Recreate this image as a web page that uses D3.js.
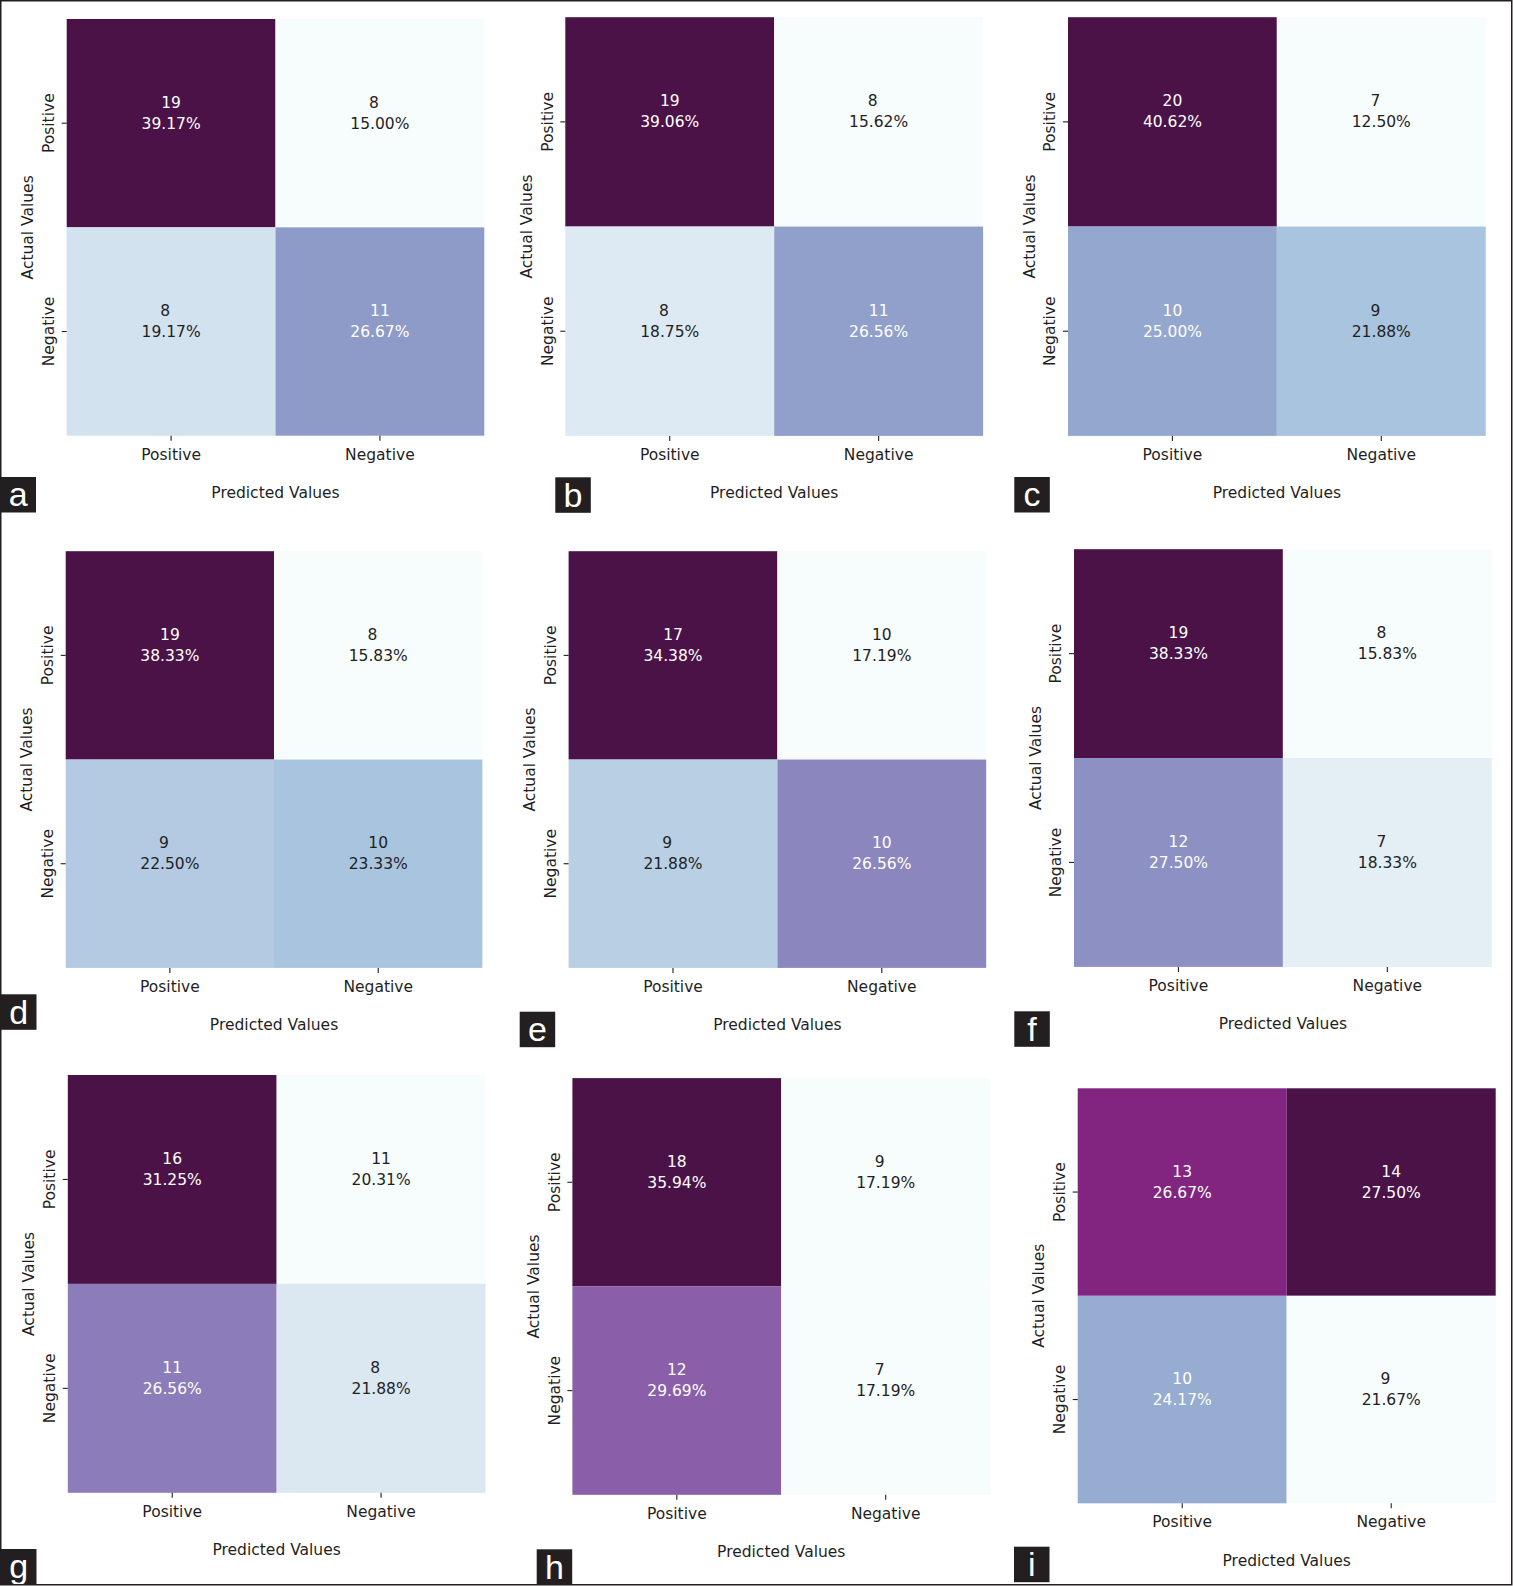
<!DOCTYPE html>
<html>
<head>
<meta charset="utf-8">
<script src="https://cdn.jsdelivr.net/npm/d3@7"></script>
<style>
  html, body { margin: 0; padding: 0; background: #fff; }
  svg { display: block; }
  text { font-family: "DejaVu Sans", sans-serif; }
</style>
</head>
<body>
<svg id="chart" width="1513" height="1586"></svg>
<script>
// ---------- data ----------
const panelLetters = ["a", "b", "c", "d", "e", "f", "g", "h", "i"];
const categories = ["Positive", "Negative"];           // actual (rows) and predicted (cols)
const xAxisTitle = "Predicted Values";
const yAxisTitle = "Actual Values";
// counts per panel: [TP, FN, FP, TN] in row-major order (actual x predicted)
const counts = [
  [19, 8, 8, 11],
  [19, 8, 8, 11],
  [20, 7, 10, 9],
  [19, 8, 9, 10],
  [17, 10, 9, 10],
  [19, 8, 12, 7],
  [16, 11, 11, 8],
  [18, 9, 12, 7],
  [13, 14, 10, 9]
];
const percents = [
  [39.17, 15.00, 19.17, 26.67],
  [39.06, 15.62, 18.75, 26.56],
  [40.62, 12.50, 25.00, 21.88],
  [38.33, 15.83, 22.50, 23.33],
  [34.38, 17.19, 21.88, 26.56],
  [38.33, 15.83, 27.50, 18.33],
  [31.25, 20.31, 26.56, 21.88],
  [35.94, 17.19, 29.69, 17.19],
  [26.67, 27.50, 24.17, 21.67]
];

// ---------- layout (pixel geometry, separate from data) ----------
const layout = [
  { x0: 66.7,  y0: 19,     x1: 484.3,  y1: 435.7,  bx: 0.5,    by: 477   },
  { x0: 565.3, y0: 17.2,   x1: 983.1,  y1: 435.9,  bx: 555.3,  by: 477.3 },
  { x0: 1068,  y0: 17.2,   x1: 1485.7, y1: 435.9,  bx: 1014.3, by: 477   },
  { x0: 65.7,  y0: 551.2,  x1: 482.4,  y1: 967.9,  bx: 1,      by: 994.3 },
  { x0: 568.6, y0: 551.2,  x1: 986.2,  y1: 967.9,  bx: 519.7,  by: 1011.7 },
  { x0: 1074,  y0: 549.2,  x1: 1491.8, y1: 966.9,  bx: 1014.3, by: 1011.3 },
  { x0: 67.8,  y0: 1075,   x1: 485.5,  y1: 1492.8, bx: 1,      by: 1549  },
  { x0: 572.4, y0: 1078.1, x1: 990.1,  y1: 1494.8, bx: 536.7,  by: 1549.3 },
  { x0: 1077.7,y0: 1088.3, x1: 1495.7, y1: 1503.3, bx: 1014,   by: 1546.7 }
];

// BuPu ramp (top end toned slightly to match the printed figure)
const bupu = ["#f7fcfd","#e0ecf4","#bfd3e6","#9ebcda","#8c96c6","#8c6bb1","#88439d","#80207d","#4b1248"];
const FS = 15.5;
const TXT = "#1f1f1f";

function luminance(c) {
  const rgb = d3.rgb(c);
  const f = v => { v /= 255; return v <= 0.03928 ? v / 12.92 : Math.pow((v + 0.055) / 1.055, 2.4); };
  return 0.2126 * f(rgb.r) + 0.7152 * f(rgb.g) + 0.0722 * f(rgb.b);
}

const svg = d3.select("#chart");

panelLetters.forEach((letter, p) => {
  const L = layout[p];
  const w = L.x1 - L.x0, h = L.y1 - L.y0;
  const g = svg.append("g").attr("transform", `translate(${L.x0},${L.y0})`);

  const x = d3.scaleBand().domain(categories).range([0, w]);
  const y = d3.scaleBand().domain(categories).range([0, h]);
  const pv = percents[p];
  const t = d3.scaleLinear().domain(d3.extent(pv)).range([0, 1]);
  const cmap = d3.scaleLinear().domain(d3.range(9).map(i => i / 8)).range(bupu).interpolate(d3.interpolateRgb);

  const cells = [];
  categories.forEach((rowCat, r) => categories.forEach((colCat, c) => {
    const k = r * 2 + c;
    cells.push({ row: rowCat, col: colCat, count: counts[p][k], pct: pv[k] });
  }));

  g.selectAll("rect.cell").data(cells).join("rect")
    .attr("class", "cell")
    .attr("x", d => x(d.col))
    .attr("y", d => y(d.row))
    .attr("width", x.bandwidth())
    .attr("height", y.bandwidth())
    .attr("fill", d => cmap(t(d.pct)));

  const labels = g.selectAll("g.lab").data(cells).join("g")
    .attr("class", "lab")
    .attr("transform", d => `translate(${x(d.col) + x.bandwidth() / 2},${y(d.row) + y.bandwidth() / 2})`)
    .attr("fill", d => luminance(cmap(t(d.pct))) > 0.408 ? TXT : "#ffffff")
    .style("font-size", FS + "px")
    .attr("text-anchor", "middle");
  labels.append("text")
    .attr("y", 5.6 - 21)
    .attr("dx", d => String(d.count).length === 1 ? "-0.38em" : 0)
    .text(d => d.count);
  labels.append("text")
    .attr("y", 5.6)
    .text(d => d.pct.toFixed(2) + "%");

  // x axis
  const gx = g.append("g").attr("transform", `translate(0,${h})`)
    .call(d3.axisBottom(x).tickSize(5).tickPadding(8));
  gx.select(".domain").remove();
  gx.selectAll(".tick line").attr("stroke", TXT).attr("stroke-width", 1.1);
  gx.selectAll(".tick text").attr("fill", TXT).style("font-size", FS + "px")
    .style("font-family", "'DejaVu Sans', sans-serif");

  // y axis
  const gy = g.append("g").call(d3.axisLeft(y).tickSize(5).tickPadding(8));
  gy.select(".domain").remove();
  gy.selectAll(".tick line").attr("stroke", TXT).attr("stroke-width", 1.1);
  gy.selectAll(".tick text")
    .attr("x", null).attr("dy", null)
    .attr("transform", "translate(-12.7,0) rotate(-90)")
    .attr("text-anchor", "middle")
    .attr("fill", TXT).style("font-size", FS + "px")
    .style("font-family", "'DejaVu Sans', sans-serif");

  // axis titles
  g.append("text")
    .attr("x", w / 2).attr("y", h + 62.6)
    .attr("text-anchor", "middle").attr("fill", TXT)
    .style("font-size", FS + "px")
    .text(xAxisTitle);
  g.append("text")
    .attr("transform", `translate(-33.4,${h / 2}) rotate(-90)`)
    .attr("text-anchor", "middle").attr("fill", TXT)
    .style("font-size", FS + "px")
    .text(yAxisTitle);

  // panel letter box
  svg.append("rect")
    .attr("x", L.bx).attr("y", L.by)
    .attr("width", 35.5).attr("height", 35.5)
    .attr("fill", "#231f20");
  svg.append("text")
    .attr("x", L.bx + 17.75).attr("y", L.by + 29.4)
    .attr("text-anchor", "middle")
    .attr("fill", "#ffffff")
    .style("font-family", "'Liberation Sans', Arial, sans-serif")
    .style("font-size", "34px")
    .text(letter);
});

// outer frame
svg.append("rect")
  .attr("x", 0.75).attr("y", 0.75)
  .attr("width", 1511).attr("height", 1584)
  .attr("fill", "none")
  .attr("stroke", "#231f20")
  .attr("stroke-width", 1.5);
</script>
</body>
</html>
